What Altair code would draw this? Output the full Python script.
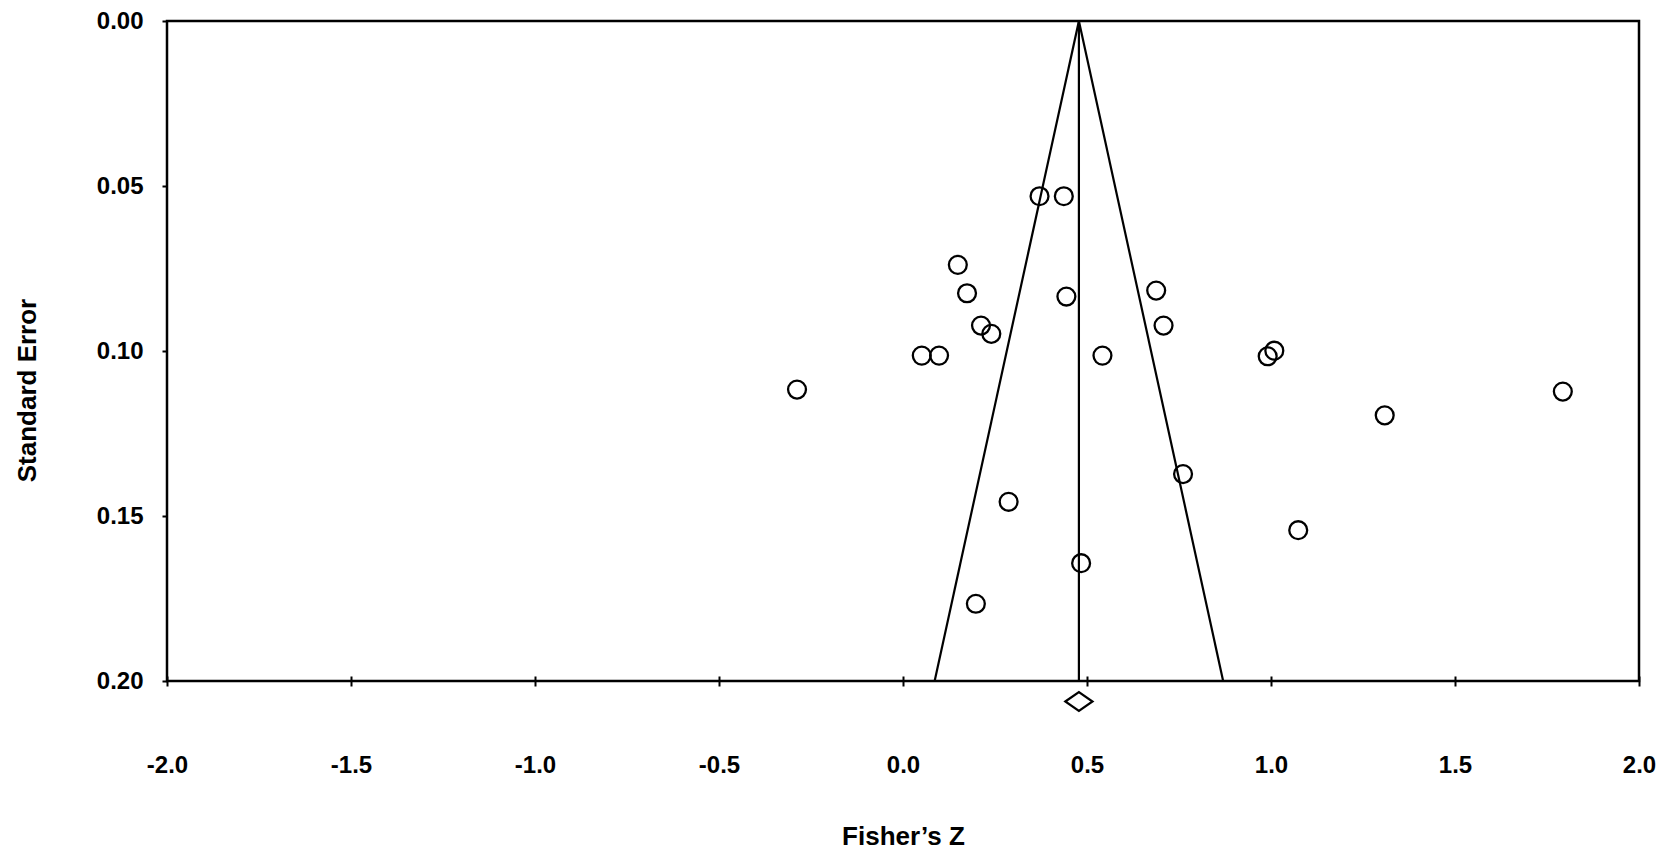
import altair as alt
import pandas as pd

# Study effect sizes (Fisher's Z) and their standard errors
fisher_z = [0.371, 0.437, 0.149, 0.174, 0.444, 0.688, 0.708, 0.212, 0.240, 0.051,
            0.098, 0.542, -0.288, 0.991, 1.009, 1.309, 1.793, 0.761, 1.074, 0.287,
            0.484, 0.198]
std_err = [0.0531, 0.0531, 0.0739, 0.0825, 0.0835, 0.0817, 0.0923, 0.0923, 0.0948, 0.1014,
           0.1014, 0.1014, 0.1117, 0.1016, 0.0999, 0.1195, 0.1123, 0.1373, 0.1543, 0.1457,
           0.1643, 0.1766]

# Pooled estimate and funnel (95% pseudo-confidence limits)
pooled_z = [0.478]
funnel_se = [0.0, 0.2]
funnel_lower = [0.478, 0.086]
funnel_upper = [0.478, 0.870]

x_tick_values = [-2.0, -1.5, -1.0, -0.5, 0.0, 0.5, 1.0, 1.5, 2.0]
y_tick_values = [0.0, 0.05, 0.10, 0.15, 0.20]

FONT = "Liberation Sans"

points_df = pd.DataFrame({"z": fisher_z, "se": std_err})
funnel_df = pd.DataFrame({
    "se": funnel_se * 2,
    "z": funnel_lower + funnel_upper,
    "side": ["lower"] * 2 + ["upper"] * 2,
})
pooled_df = pd.DataFrame({"z": pooled_z, "se": [funnel_se[0]], "se1": [funnel_se[1]]})

x_scale = alt.Scale(domain=[-2, 2], nice=False, zero=False)
y_scale = alt.Scale(domain=[0, 0.2], reverse=True, nice=False, zero=False)

x_axis = alt.Axis(
    values=x_tick_values,
    labelExpr="replace(format(datum.value, '.1f'), '\u2212', '-')",
    domain=False, grid=False,
    ticks=True, tickSize=10, tickWidth=2, tickColor="black",
    offset=-5,
    labelFont=FONT, labelFontSize=24, labelFontWeight="bold", labelColor="black",
    labelBaseline="alphabetic", labelPadding=86, labelFlush=False, labelOverlap=False,
    title="Fisher\u2019s Z",
    titleFont=FONT, titleFontSize=26, titleFontWeight="bold", titleColor="black",
    titleBaseline="alphabetic", titleAlign="center", titleX=736, titleY=168,
)
y_axis = alt.Axis(
    values=y_tick_values,
    format=".2f",
    domain=False, grid=False,
    ticks=True, tickSize=5, tickWidth=2, tickColor="black",
    labelFont=FONT, labelFontSize=24, labelFontWeight="bold", labelColor="black",
    labelBaseline="middle", labelPadding=19, labelFlush=False, labelOverlap=False,
    title="Standard Error",
    titleFont=FONT, titleFontSize=26, titleFontWeight="bold", titleColor="black",
    titleBaseline="alphabetic", titleAlign="center", titleAngle=270,
    titleX=-132, titleY=369,
)

X = alt.X("z:Q", scale=x_scale, axis=x_axis)
Y = alt.Y("se:Q", scale=y_scale, axis=y_axis)

funnel = alt.Chart(funnel_df).mark_line(color="black", strokeWidth=2.2).encode(
    x=X, y=Y, detail="side:N",
)

center_line = alt.Chart(pooled_df).mark_rule(color="black", strokeWidth=2.2).encode(
    x=X, y=Y, y2="se1:Q",
)

points = alt.Chart(points_df).mark_point(
    shape="circle", size=320, filled=False, stroke="black", strokeWidth=2.3, opacity=1
).encode(x=X, y=Y)

diamond = alt.Chart(pooled_df).mark_point(
    shape="M-1,0L0,-0.7L1,0L0,0.7Z", size=740, filled=True, fill="white",
    stroke="black", strokeWidth=2.2, opacity=1, clip=False
).encode(
    x=X,
    y=alt.value(680.5),
)

chart = alt.layer(funnel, center_line, points, diamond).properties(
    width=1472,
    height=660,
    autosize=alt.AutoSizeParams(type="none"),
    padding={"left": 159, "top": 13, "right": 18, "bottom": 168},
    background="white",
).configure_view(
    stroke="black", strokeWidth=2.5
)

chart.save("out.html", embed_options={"renderer": "svg", "actions": False})
